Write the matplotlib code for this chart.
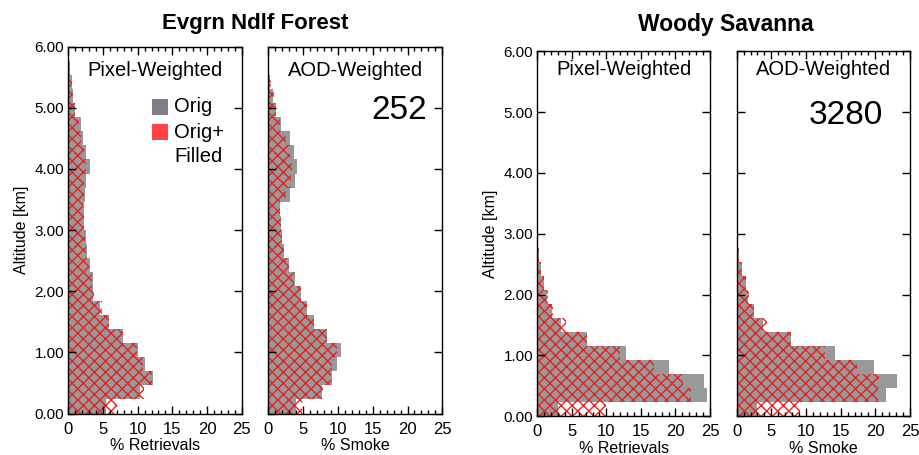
import numpy as np
import matplotlib
matplotlib.use("Agg")
import matplotlib.pyplot as plt
from matplotlib.ticker import MultipleLocator, FormatStrFormatter
from matplotlib.patches import Rectangle

plt.rcParams['font.family'] = ['Liberation Sans', 'DejaVu Sans']
plt.rcParams['hatch.linewidth'] = 1.0

# Altitude bins (km): 26 bins from 0 to 6 km
n_bins = 26
alt_top = 6.0

# Evergreen Needleleaf Forest, pixel-weighted (% retrievals)
evg_pix_orig = [5.4, 10.4, 12.2, 11.0, 10.0, 7.9, 5.8, 4.6, 3.6, 3.5, 3.1, 2.7, 2.5,
                2.2, 2.2, 2.4, 2.6, 3.1, 2.6, 2.1, 1.8, 1.0, 0.73, 0.48, 0.25, 0.1]
evg_pix_fill = [7.0, 10.9, 12.1, 10.8, 9.9, 7.9, 5.9, 4.8, 3.75, 3.4, 3.0, 2.6, 2.4,
                2.2, 2.1, 2.2, 2.3, 2.6, 2.2, 1.9, 1.6, 0.9, 0.7, 0.5, 0.2, 0.1]
# Evergreen Needleleaf Forest, AOD-weighted (% smoke)
evg_aod_orig = [4.0, 7.7, 9.1, 9.8, 10.4, 8.4, 6.6, 5.6, 4.65, 3.85, 3.0, 2.25, 1.9,
                1.8, 1.7, 3.1, 3.85, 4.1, 3.7, 3.1, 1.8, 1.1, 0.65, 0.2, 0.1, 0.05]
evg_aod_fill = [4.8, 7.8, 9.0, 9.2, 9.9, 8.4, 6.6, 5.5, 4.65, 3.75, 3.0, 2.25, 1.9,
                1.85, 1.7, 2.55, 3.3, 3.4, 3.1, 2.55, 1.7, 1.1, 0.75, 0.35, 0.15, 0.1]
# Woody Savanna, pixel-weighted
wsv_pix_orig = [3.0, 24.5, 24.1, 19.0, 12.9, 7.2, 3.5, 2.2, 1.4, 0.97, 0.5, 0.3, 0.15,
                0.08, 0.05, 0.03, 0.02, 0.02, 0.01, 0.01, 0.01, 0.01, 0.01, 0.01, 0.01, 0.01]
wsv_pix_fill = [9.9, 22.25, 21.05, 16.9, 12.0, 7.2, 4.15, 2.3, 1.6, 0.9, 0.6, 0.3, 0.15,
                0.1, 0.05, 0.03, 0.02, 0.02, 0.01, 0.01, 0.01, 0.01, 0.01, 0.02, 0.08, 0.05]
# Woody Savanna, AOD-weighted
wsv_aod_orig = [2.9, 21.5, 23.1, 19.8, 14.2, 7.9, 3.85, 2.5, 1.7, 1.35, 0.72, 0.38, 0.2,
                0.1, 0.05, 0.03, 0.02, 0.02, 0.01, 0.01, 0.01, 0.01, 0.01, 0.01, 0.01, 0.01]
wsv_aod_fill = [9.1, 20.4, 20.5, 17.3, 12.7, 7.9, 4.4, 2.5, 1.8, 1.3, 0.75, 0.4, 0.2,
                0.1, 0.05, 0.03, 0.02, 0.02, 0.01, 0.01, 0.01, 0.01, 0.01, 0.08, 0.08, 0.02]

titles = ["Evgrn Ndlf Forest", "Woody Savanna"]
panel_labels = ["Pixel-Weighted", "AOD-Weighted", "Pixel-Weighted", "AOD-Weighted"]
xlabels = ["% Retrievals", "% Smoke", "% Retrievals", "% Smoke"]
counts = ["", "252", "", "3280"]
count_x = [0, 0.75, 0, 0.63]
legend_labels = ["Orig", "Orig+\nFilled"]

gray = "#999999"
red = "#e62020"
legend_gray = "#7e7e8a"
legend_red = "#ff4444"

edges = np.linspace(0, alt_top, n_bins + 1)
binw = edges[1] - edges[0]

fig = plt.figure(figsize=(9.19, 4.55), dpi=100)

positions = [
    [68.3 / 919, 41.5 / 455, 173.4 / 919, 367 / 455],
    [268.3 / 919, 41.5 / 455, 174.0 / 919, 367 / 455],
    [537.3 / 919, 39.0 / 455, 172.7 / 919, 364.5 / 455],
    [736.7 / 919, 39.0 / 455, 173.3 / 919, 364.5 / 455],
]
data = [(evg_pix_orig, evg_pix_fill), (evg_aod_orig, evg_aod_fill),
        (wsv_pix_orig, wsv_pix_fill), (wsv_aod_orig, wsv_aod_fill)]

axes = []
for i, (pos, (orig, fill)) in enumerate(zip(positions, data)):
    ax = fig.add_axes(pos)
    axes.append(ax)
    ax.barh(edges[:-1], orig, height=binw, align='edge', color=gray, linewidth=0)
    ax.barh(edges[:-1], fill, height=binw, align='edge', facecolor='none',
            edgecolor=red, hatch='xxx', linewidth=0)
    ax.set_xlim(0, 25)
    ax.set_ylim(0, 6)
    ax.xaxis.set_major_locator(MultipleLocator(5))
    ax.xaxis.set_minor_locator(MultipleLocator(1))
    ax.yaxis.set_major_locator(MultipleLocator(1))
    ax.yaxis.set_major_formatter(FormatStrFormatter('%.2f'))
    ax.tick_params(axis='both', which='both', direction='in', top=True, right=True,
                   width=1, color='black')
    ax.tick_params(axis='both', which='major', length=6)
    ax.tick_params(axis='x', which='minor', length=3)
    ax.tick_params(axis='x', labelsize=12, pad=6)
    ax.tick_params(axis='y', labelsize=11, pad=3)
    for s in ax.spines.values():
        s.set_linewidth(1.0)
        s.set_color('black')
    ax.set_xlabel(xlabels[i], fontsize=11.5, labelpad=1)
    ax.text(0.5, 0.935 if i < 2 else 0.95, panel_labels[i], transform=ax.transAxes,
            ha='center', va='center', fontsize=14.5)
    if counts[i]:
        ax.text(count_x[i], 0.825, counts[i], transform=ax.transAxes,
                ha='center', va='center', fontsize=24)
    if i in (1, 3):
        ax.tick_params(axis='y', labelleft=False)
    else:
        ax.set_ylabel("Altitude [km]", fontsize=11.5, labelpad=4)

# Legend in first panel
for k, col in enumerate([legend_gray, legend_red]):
    y0 = [99.3, 124.3][k]
    fig.patches.append(Rectangle((152.3 / 919, 1 - (y0 + 15.5) / 455), 15.5 / 919, 15.5 / 455,
                                 transform=fig.transFigure, facecolor=col,
                                 edgecolor='none'))
fig.text(174 / 919, 1 - 107 / 455, legend_labels[0], ha='left', va='center', fontsize=14.5)
fig.text(174 / 919, 1 - 132 / 455, legend_labels[1].split("\n")[0], ha='left', va='center', fontsize=14.5)
fig.text(174 / 919, 1 - 156 / 455, legend_labels[1].split("\n")[1], ha='left', va='center', fontsize=14.5)

# Titles
fig.text(255.5 / 919, 1 - 23 / 455, titles[0], ha='center', va='center',
         fontsize=16, fontweight='bold')
fig.text(726 / 919, 1 - 25 / 455, titles[1], ha='center', va='center',
         fontsize=16.5, fontweight='bold')

fig.savefig("out.png", dpi=100)
